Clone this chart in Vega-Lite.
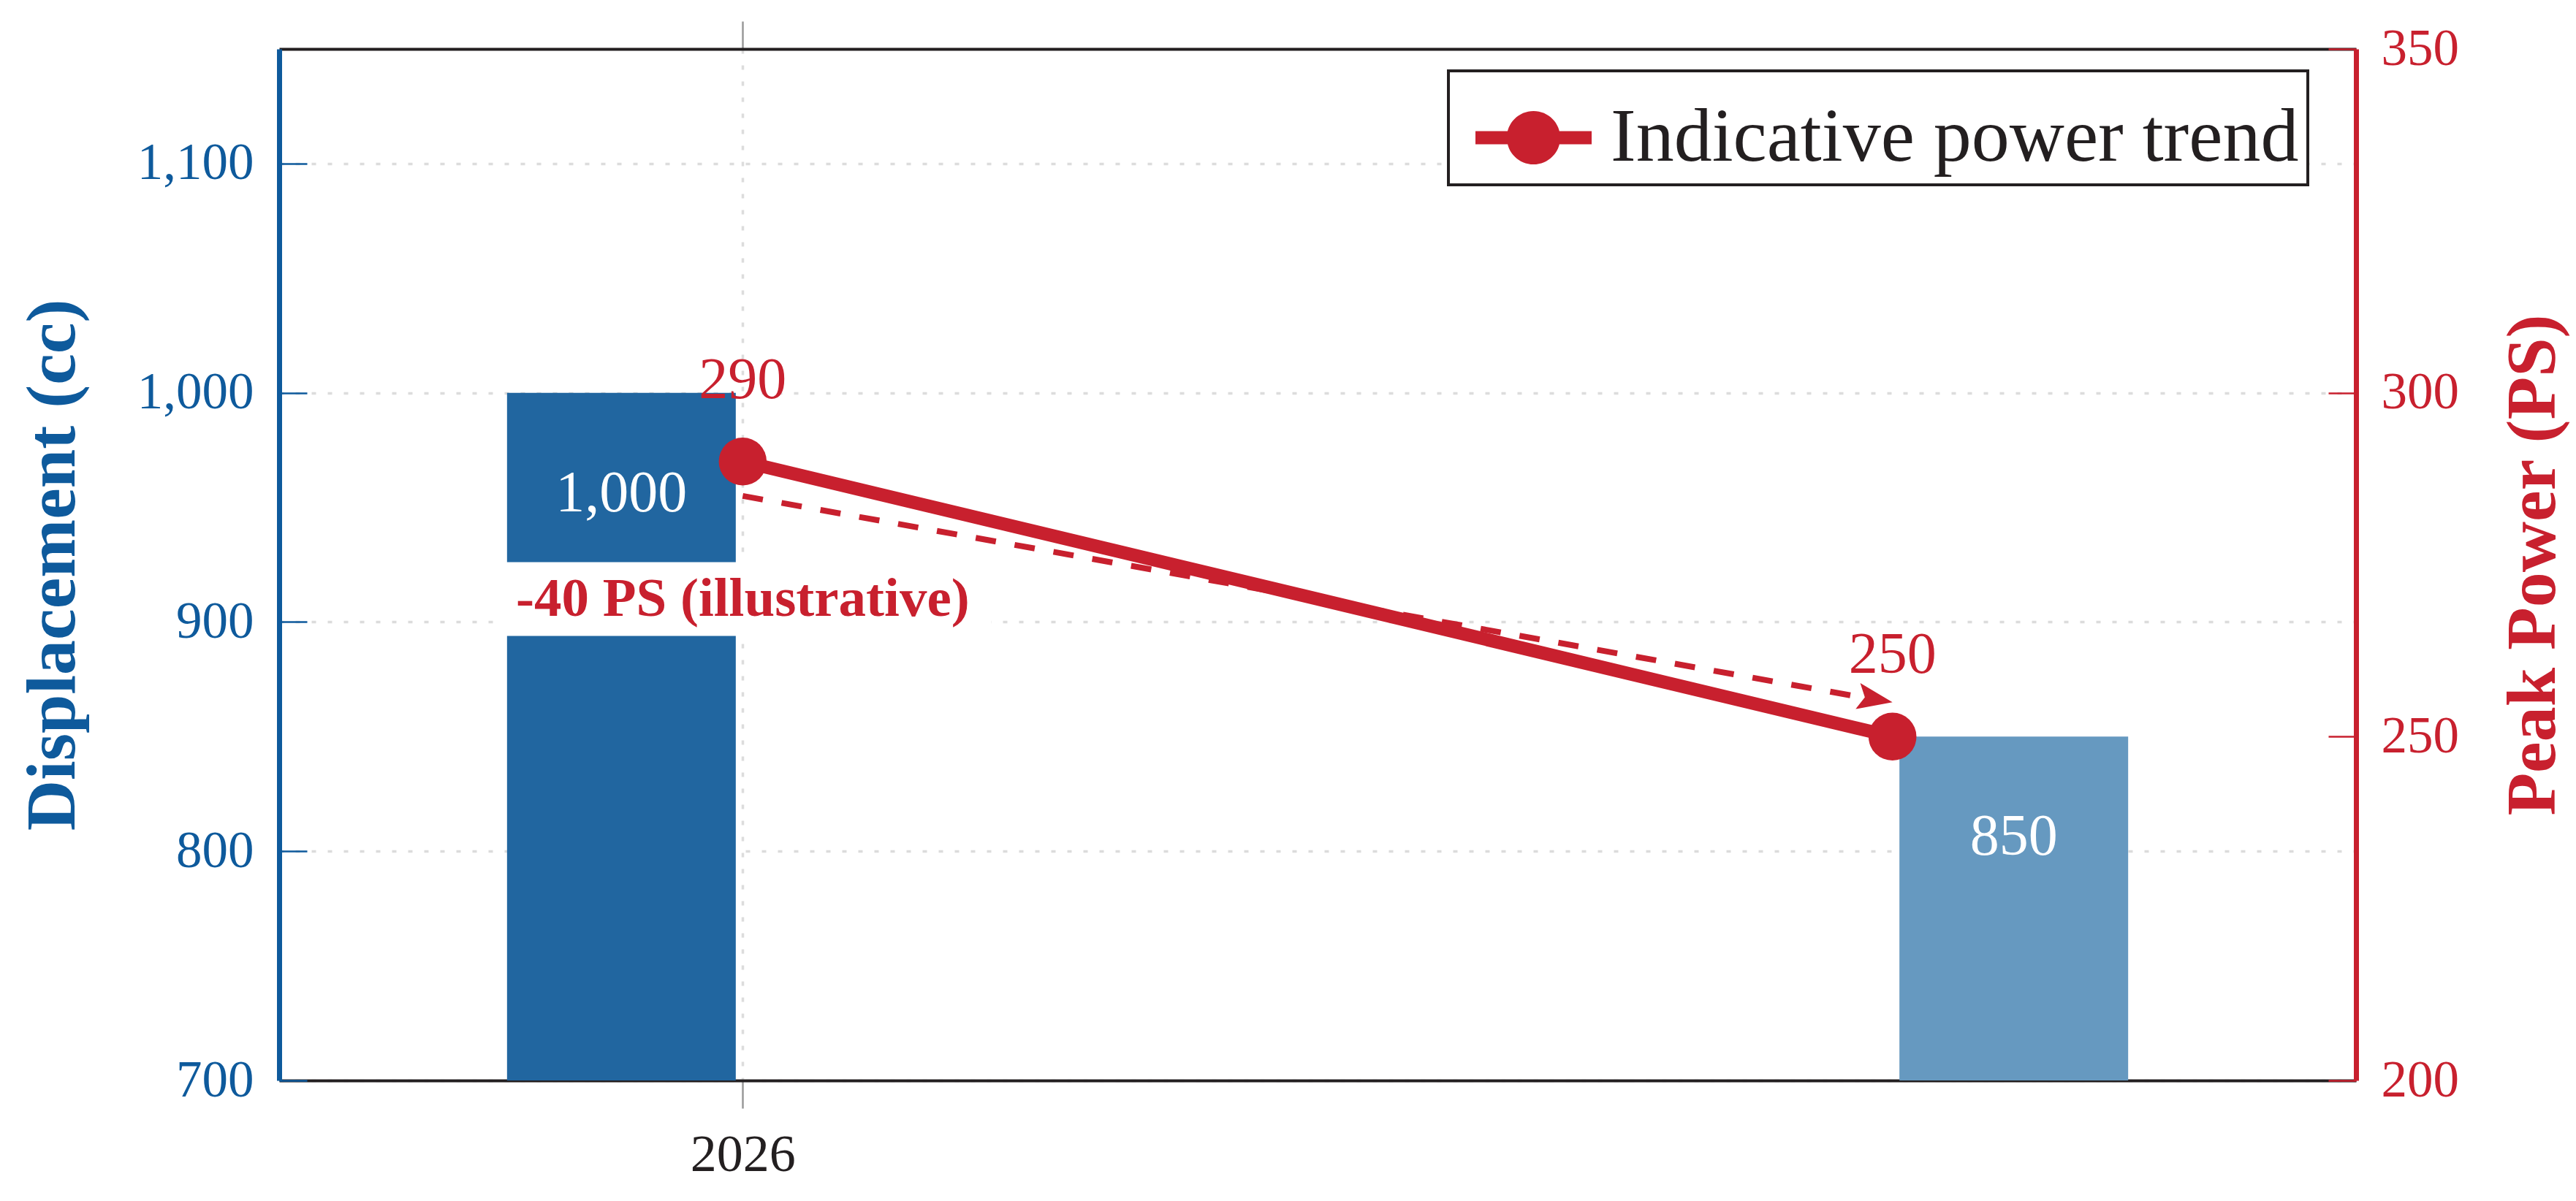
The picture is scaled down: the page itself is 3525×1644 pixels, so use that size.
{
  "$schema": "https://vega.github.io/schema/vega-lite/v6.json",
  "width": 2842,
  "height": 1412,
  "autosize": {"type": "none"},
  "padding": {"left": 382, "top": 67, "right": 301, "bottom": 165},
  "background": "white",
  "datasets": {
    "engines": [
      {"year": 2026, "displacement": 1000, "power": 290},
      {"year": 2027, "displacement": 850, "power": 250}
    ]
  },
  "config": {
    "font": "Liberation Serif",
    "view": {"stroke": null},
    "axis": {"labelFont": "Liberation Serif", "titleFont": "Liberation Serif"},
    "legend": {
      "labelFont": "Liberation Serif",
      "strokeColor": "#231f20",
      "strokeWidth": 4,
      "fillColor": "white",
      "padding": 12,
      "cornerRadius": 0
    }
  },
  "resolve": {"scale": {"y": "independent", "color": "independent"}, "axis": {"x": "independent"}},
  "layer": [
    {
      "data": {"name": "engines"},
      "encoding": {
        "x": {
          "field": "year",
          "type": "quantitative",
          "scale": {"domain": [2025.6, 2027.4], "nice": false, "zero": false},
          "axis": {
            "orient": "bottom",
            "values": [2026],
            "format": "d",
            "title": null,
            "labelFontSize": 72,
            "labelColor": "#231f20",
            "labelPadding": 28,
            "labelFlush": false,
            "tickSize": 38,
            "tickColor": "#999999",
            "tickWidth": 2.5,
            "domainColor": "#231f20",
            "domainWidth": 4,
            "grid": true,
            "gridColor": "#dcdcdc",
            "gridDash": [6, 16],
            "gridWidth": 3.5
          }
        },
        "y": {
          "field": "displacement",
          "type": "quantitative",
          "scale": {"domain": [700, 1150], "nice": false, "zero": false},
          "axis": {
            "orient": "left",
            "values": [700, 800, 900, 1000, 1100],
            "title": "Displacement (cc)",
            "titleColor": "#0e5a9c",
            "titleFontSize": 96,
            "titleFontWeight": "bold",
            "titlePadding": 66,
            "labelFontSize": 71,
            "labelColor": "#0e5a9c",
            "labelPadding": 73,
            "tickSize": -38,
            "tickColor": "#0e5a9c",
            "tickWidth": 2.5,
            "domainColor": "#0e5a9c",
            "domainWidth": 7,
            "grid": true,
            "gridColor": "#dcdcdc",
            "gridDash": [6, 16],
            "gridWidth": 3.5
          }
        }
      },
      "layer": [
        {
          "mark": {"type": "bar", "width": 313, "xOffset": {"expr": "datum.year == 2026 ? -166 : 166"}},
          "encoding": {
            "y2": {"datum": 700},
            "fill": {"field": "year", "type": "ordinal", "scale": {"range": ["#2166a0", "#6699c0"]}, "legend": null}
          }
        },
        {
          "mark": {"type": "text", "fontSize": 80, "color": "white", "baseline": "alphabetic", "align": "center", "dy": 162, "xOffset": {"expr": "datum.year == 2026 ? -166 : 166"}},
          "encoding": {
            "text": {"field": "displacement", "type": "quantitative", "format": ","}
          }
        }
      ]
    },
    {
      "layer": [
        {
          "data": {"values": [{"note": "-40 PS (illustrative)"}]},
          "mark": {"type": "point", "shape": "M-1,-0.1485L1,-0.1485L1,0.1485L-1,0.1485Z", "size": 462400, "filled": true, "color": "white", "opacity": 1, "strokeWidth": 0},
          "encoding": {
            "x": {"datum": 2026, "type": "quantitative"},
            "y": {"datum": 270, "type": "quantitative"}
          }
        },
        {
          "data": {"values": [{"note": "-40 PS (illustrative)"}]},
          "mark": {"type": "rule", "color": "#c8202e", "strokeWidth": 8, "strokeDash": [28, 26], "strokeCap": "butt"},
          "encoding": {
            "x": {"datum": 2026, "type": "quantitative"},
            "y": {"datum": 285, "type": "quantitative"},
            "x2": {"datum": 2026.975},
            "y2": {"datum": 255.66}
          }
        },
        {
          "data": {"values": [{"note": "-40 PS (illustrative)"}]},
          "mark": {"type": "point", "shape": "M0,0L-1,-0.375L-0.8,0L-1,0.375Z", "size": 9216, "angle": 10.12, "filled": true, "color": "#c8202e", "opacity": 1, "strokeWidth": 0},
          "encoding": {
            "x": {"datum": 2027, "type": "quantitative"},
            "y": {"datum": 255, "type": "quantitative"}
          }
        },
        {
          "data": {"name": "engines"},
          "mark": {"type": "line", "color": "#c8202e", "strokeWidth": 18, "strokeCap": "butt"},
          "encoding": {
            "x": {
              "field": "year",
              "type": "quantitative",
              "axis": {
                "orient": "top",
                "values": [2026],
                "title": null,
                "labels": false,
                "tickSize": 38,
                "tickColor": "#999999",
                "tickWidth": 2.5,
                "domainColor": "#231f20",
                "domainWidth": 4,
                "grid": false
              }
            },
            "y": {
              "field": "power",
              "type": "quantitative",
              "scale": {"domain": [200, 350], "nice": false, "zero": false},
              "axis": {
                "orient": "right",
                "values": [200, 250, 300, 350],
                "title": "Peak Power (PS)",
                "titleColor": "#c8202e",
                "titleFontSize": 96,
                "titleFontWeight": "bold",
                "titleAngle": 270,
                "titleBaseline": "top",
                "titlePadding": 55,
                "labelFontSize": 71,
                "labelColor": "#c8202e",
                "labelPadding": 72,
                "tickSize": -38,
                "tickColor": "#c8202e",
                "tickWidth": 2.5,
                "domainColor": "#c8202e",
                "domainWidth": 7,
                "grid": false
              }
            }
          }
        },
        {
          "data": {"name": "engines"},
          "mark": {"type": "point", "shape": "circle", "size": 4300, "filled": true, "opacity": 1, "strokeWidth": 0},
          "encoding": {
            "x": {"field": "year", "type": "quantitative"},
            "y": {"field": "power", "type": "quantitative"},
            "color": {
              "datum": "Indicative power trend",
              "type": "nominal",
              "scale": {"range": ["#c8202e"]},
              "legend": {
                "orient": "none",
                "legendX": 1600,
                "legendY": 30,
                "title": null,
                "symbolType": "M-1,-0.113L1,-0.113L1,0.113L-1,0.113Z M-0.46,0A0.46,0.46,0,1,1,0.46,0A0.46,0.46,0,1,1,-0.46,0Z",
                "symbolSize": 25281,
                "symbolOffset": 25,
                "symbolStrokeWidth": 0,
                "symbolOpacity": 1,
                "labelFontSize": 104,
                "labelColor": "#231f20",
                "labelOffset": 26,
                "labelLimit": 3000,
                "padding": 12,
                "fillColor": "white",
                "strokeColor": "#231f20"
              }
            }
          }
        },
        {
          "data": {"name": "engines"},
          "mark": {"type": "text", "fontSize": 80, "color": "#c8202e", "baseline": "alphabetic", "align": "center", "dy": -87},
          "encoding": {
            "x": {"field": "year", "type": "quantitative"},
            "y": {"field": "power", "type": "quantitative"},
            "text": {"field": "power", "type": "quantitative"}
          }
        },
        {
          "data": {"values": [{"note": "-40 PS (illustrative)"}]},
          "mark": {"type": "text", "fontSize": 75, "fontWeight": "bold", "color": "#c8202e", "baseline": "middle", "align": "center"},
          "encoding": {
            "x": {"datum": 2026, "type": "quantitative"},
            "y": {"datum": 270, "type": "quantitative"},
            "text": {"field": "note", "type": "nominal"}
          }
        }
      ]
    }
  ]
}
